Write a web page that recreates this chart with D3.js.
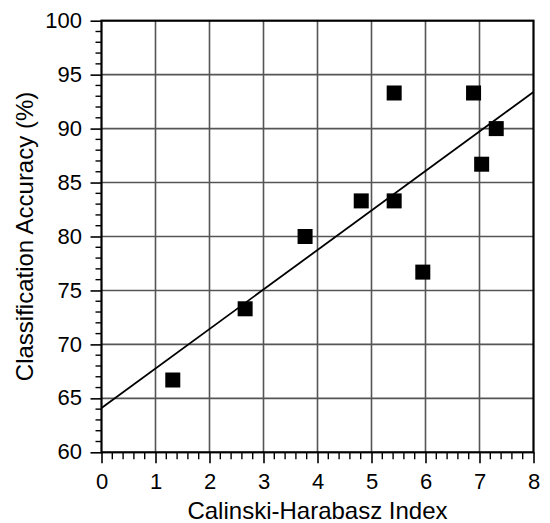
<!DOCTYPE html>
<html><head><meta charset="utf-8">
<script src="https://cdn.jsdelivr.net/npm/d3@7"></script>
<style>body{margin:0;background:#fff}svg{display:block}text{font-family:"Liberation Sans",Arial,sans-serif;fill:#000}</style>
</head><body>
<svg id="c" width="550" height="523"></svg>
<script>
const xVals = [1.32, 2.66, 3.77, 4.81, 5.42, 5.42, 5.95, 6.89, 7.04, 7.31];
const yVals = [66.7, 73.3, 80.0, 83.3, 83.3, 93.3, 76.7, 93.3, 86.7, 90.0];
const fitX = [0, 8];
const fitY = [64.1, 93.4];
const xTicks = [0,1,2,3,4,5,6,7,8];
const yTicks = [60,65,70,75,80,85,90,95,100];
const xTitle = "Calinski-Harabasz Index";
const yTitle = "Classification Accuracy (%)";

const svg = d3.select("#c");
const L=101.5, R=533.5, T=20.7, B=452.3;
const x = d3.scaleLinear().domain([0,8]).range([L,R]);
const y = d3.scaleLinear().domain([60,100]).range([B,T]);

// grid
const g = svg.append("g");
g.selectAll(".vx").data(xTicks.slice(1,-1)).join("line")
  .attr("x1",d=>x(d)).attr("x2",d=>x(d)).attr("y1",T).attr("y2",B)
  .attr("stroke","#555").attr("stroke-width",1.6);
g.selectAll(".hy").data(yTicks.slice(1,-1)).join("line")
  .attr("y1",d=>y(d)).attr("y2",d=>y(d)).attr("x1",L).attr("x2",R)
  .attr("stroke","#555").attr("stroke-width",1.6);

// fit line
svg.append("line").attr("x1",x(fitX[0])).attr("y1",y(fitY[0])).attr("x2",x(fitX[1])).attr("y2",y(fitY[1]))
  .attr("stroke","#000").attr("stroke-width",1.8);

// points
const s=15;
svg.selectAll(".pt").data(xVals.map((v,i)=>[v,yVals[i]])).join("rect")
  .attr("x",d=>x(d[0])-s/2).attr("y",d=>y(d[1])-s/2).attr("width",s).attr("height",s).attr("fill","#000");

// frame
svg.append("rect").attr("x",L).attr("y",T).attr("width",R-L).attr("height",B-T)
  .attr("fill","none").attr("stroke","#000").attr("stroke-width",2.2);

// axes
const xa = svg.append("g").attr("transform",`translate(0,${B})`)
  .call(d3.axisBottom(x).tickValues(xTicks).tickSize(11).tickFormat(d3.format("d")));
const ya = svg.append("g").attr("transform",`translate(${L},0)`)
  .call(d3.axisLeft(y).tickValues(yTicks).tickSize(11).tickFormat(d3.format("d")));
[xa,ya].forEach(a=>{a.select(".domain").remove();a.selectAll("line").attr("stroke","#000").attr("stroke-width",1.6);
  a.selectAll("text").attr("font-size",22).attr("font-family","Liberation Sans, Arial, sans-serif").attr("fill","#000");});
xa.selectAll("text").attr("dy",null).attr("y",37);
ya.selectAll("text").attr("dy","0.3em").attr("x",-19.5);

// minor ticks
const xMinor = d3.range(0,8.001,0.2).filter(v=>Math.abs(v-Math.round(v))>1e-6);
svg.append("g").selectAll("line").data(xMinor).join("line")
  .attr("x1",d=>x(d)).attr("x2",d=>x(d)).attr("y1",B).attr("y2",B+7)
  .attr("stroke","#000").attr("stroke-width",1.4);
const yMinor = d3.range(60,100.001,1).filter(v=>v%5!==0);
svg.append("g").selectAll("line").data(yMinor).join("line")
  .attr("y1",d=>y(d)).attr("y2",d=>y(d)).attr("x1",L-6).attr("x2",L)
  .attr("stroke","#000").attr("stroke-width",1.4);

svg.append("text").attr("x",(L+R)/2).attr("y",519).attr("text-anchor","middle").attr("font-size",24).text(xTitle);
svg.append("text").attr("transform",`translate(33,${(T+B)/2}) rotate(-90)`).attr("text-anchor","middle").attr("font-size",24).text(yTitle);
</script>
</body></html>
